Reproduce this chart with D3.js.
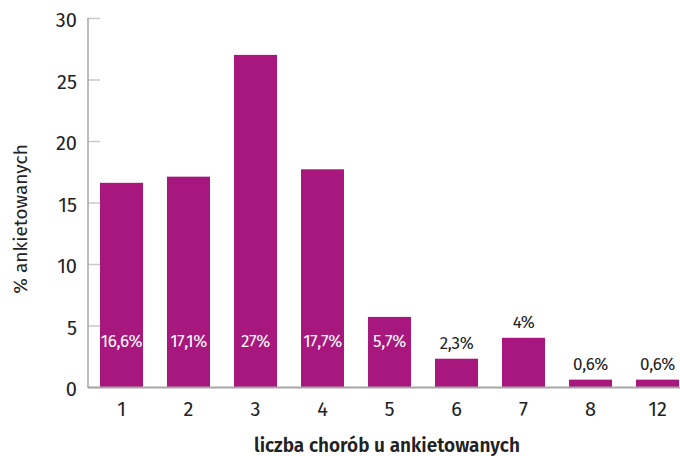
<!DOCTYPE html>
<html>
<head>
<meta charset="utf-8">
<script src="https://cdn.jsdelivr.net/npm/d3@7"></script>
<style>
  body { margin: 0; background: #fff; }
  svg { display: block; font-family: "Fira Sans", "Open Sans", "Noto Sans", sans-serif; }
</style>
</head>
<body>
<svg id="chart" width="680" height="456"></svg>
<script>
// Number of diseases per respondent and share of respondents (%)
const categories = ["1", "2", "3", "4", "5", "6", "7", "8", "12"];
const values = [16.6, 17.1, 27, 17.7, 5.7, 2.3, 4, 0.6, 0.6];
const valueLabels = ["16,6%", "17,1%", "27%", "17,7%", "5,7%", "2,3%", "4%", "0,6%", "0,6%"];
const yTicks = [0, 5, 10, 15, 20, 25, 30];

(function () {
  const svg = d3.select("#chart");
  const mLeft = 88, mRight = 691, mTop = 18, mBottom = 387;
  const barColor = "#a8177e";
  const axisColor = "#a6a6a6";

  const x = d3.scaleBand().domain(categories).range([mLeft, mRight])
    .paddingInner(0.358).paddingOuter(0.179);
  const y = d3.scaleLinear().domain([0, 30]).range([mBottom, mTop]);

  // y axis: short gray tick stubs and labels
  const yAxis = svg.append("g").attr("transform", `translate(${mLeft},0)`)
    .call(d3.axisRight(y).tickValues(yTicks).tickSize(12).tickFormat(""));
  yAxis.select(".domain").remove();
  yAxis.selectAll("line").attr("stroke", "#c8c8c8").attr("stroke-width", 1.5);
  svg.append("g").selectAll("text").data(yTicks).join("text")
    .attr("x", mLeft - 11).attr("y", d => y(d) + 2).attr("dy", "0.35em")
    .attr("text-anchor", "end").attr("font-size", 20).attr("fill", "#222")
    .text(d => d);

  // bars
  svg.append("g").selectAll("rect").data(values).join("rect")
    .attr("x", (d, i) => x(categories[i])).attr("width", x.bandwidth())
    .attr("y", d => y(d)).attr("height", d => y(0) - y(d))
    .attr("fill", barColor);

  // axis lines
  svg.append("line").attr("x1", mLeft).attr("x2", mLeft).attr("y1", mTop).attr("y2", mBottom + 1)
    .attr("stroke", axisColor).attr("stroke-width", 1.5);
  svg.append("line").attr("x1", mLeft).attr("x2", 680).attr("y1", mBottom + 0.5).attr("y2", mBottom + 0.5)
    .attr("stroke", axisColor).attr("stroke-width", 2);

  // x tick labels
  svg.append("g").selectAll("text").data(categories).join("text")
    .attr("x", d => x(d) + x.bandwidth() / 2).attr("y", 409).attr("dy", "0.35em")
    .attr("text-anchor", "middle").attr("font-size", 20).attr("fill", "#222")
    .text(d => d);

  // value labels: inside tall bars, above short ones
  svg.append("g").selectAll("text").data(values).join("text")
    .attr("x", (d, i) => x(categories[i]) + x.bandwidth() / 2)
    .attr("y", d => d > 5 ? 341 : y(d) - 16).attr("dy", "0.35em")
    .attr("text-anchor", "middle").attr("font-size", 17).attr("letter-spacing", -0.4)
    .attr("fill", d => d > 5 ? "#fff" : "#222")
    .text((d, i) => valueLabels[i]);

  // axis titles
  svg.append("text").attr("x", 387).attr("y", 445).attr("dy", "0.35em")
    .attr("text-anchor", "middle").attr("font-size", 19).attr("font-weight", 600)
    .attr("fill", "#222").text("liczba chorób u ankietowanych");
  svg.append("text").attr("transform", "translate(20,219) rotate(-90)").attr("dy", "0.35em")
    .attr("text-anchor", "middle").attr("font-size", 19).attr("fill", "#222")
    .text("% ankietowanych");
})();
</script>
</body>
</html>
